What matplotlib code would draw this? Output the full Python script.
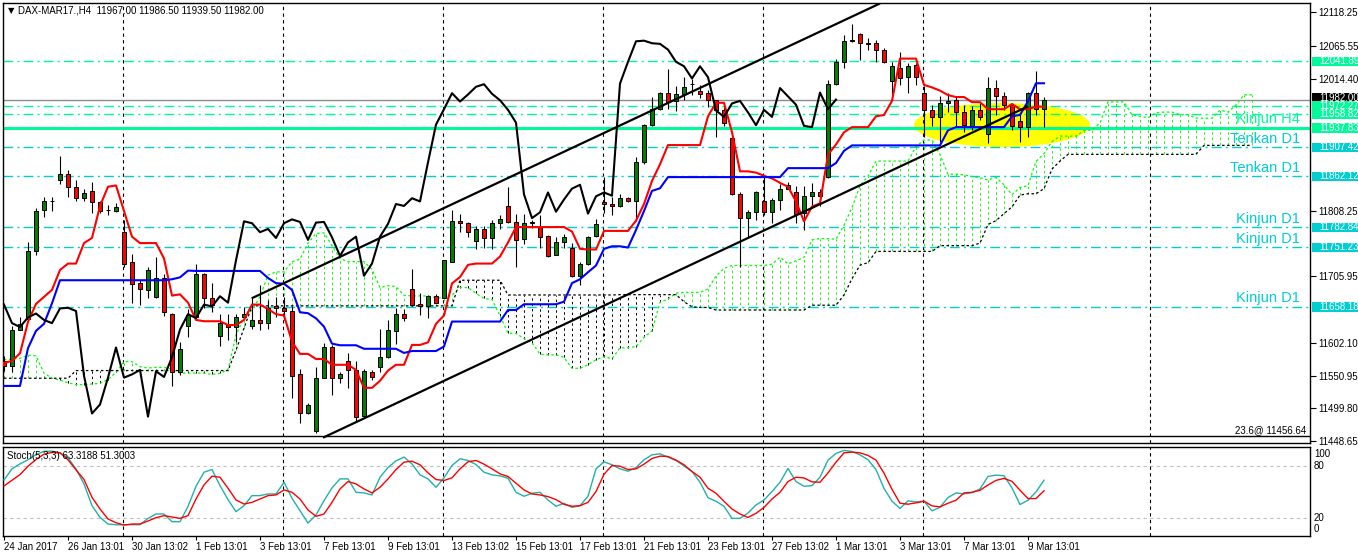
import matplotlib
matplotlib.use("Agg")
import matplotlib.pyplot as plt
from matplotlib.patches import Ellipse, Rectangle
from matplotlib.transforms import blended_transform_factory

plt.rcParams["font.family"] = ["Liberation Sans", "DejaVu Sans"]

# ----------------------------------------
# DAX-MAR17 H4 bars
# ----------------------------------------
opens = [11574, 11566, 11623, 11640, 11746, 11809, 11823, 11856, 11866, 11845,
         11828, 11840, 11822, 11809, 11808, 11775, 11728, 11695, 11685, 11674,
         11704, 11648, 11557, 11629, 11643, 11710, 11672, 11613, 11631, 11627,
         11642, 11629, 11638, 11633, 11659, 11656, 11652, 11553, 11492, 11464,
         11548, 11595, 11548, 11574, 11560, 11488, 11556, 11564, 11580, 11621,
         11647, 11686, 11663, 11659, 11675, 11673, 11729, 11792, 11789, 11762,
         11780, 11766, 11789, 11816, 11791, 11764, 11790, 11783, 11769, 11740,
         11759, 11750, 11707, 11726, 11769, 11822, 11819, 11816, 11828, 11823,
         11884, 11942, 11967, 11992, 11980, 11990, 12006, 11996, 11992, 11981,
         11966, 11922, 11834, 11797, 11806, 11824, 11807, 11826, 11843, 11838,
         11805, 11831, 11837, 11861, 12006, 12041, 12074, 12084, 12070, 12071,
         12060, 12011, 12032, 12017, 12036, 11993, 11966, 11955, 11976, 11981,
         11962, 11941, 11966, 11929, 12000, 11987, 11974, 11949, 11939, 11993,
         11967]
highs = [11582, 11628, 11643, 11759, 11812, 11830, 11830, 11894, 11872, 11856,
         11842, 11854, 11823, 11817, 11820, 11794, 11741, 11700, 11721, 11736,
         11710, 11649, 11603, 11655, 11725, 11712, 11695, 11647, 11648, 11648,
         11658, 11672, 11692, 11669, 11674, 11674, 11659, 11561, 11508, 11565,
         11602, 11599, 11557, 11586, 11574, 11562, 11560, 11624, 11638, 11656,
         11655, 11718, 11680, 11677, 11679, 11732, 11810, 11804, 11791, 11784,
         11784, 11794, 11802, 11846, 11804, 11803, 11794, 11802, 11771, 11767,
         11772, 11758, 11729, 11769, 11796, 11861, 11830, 11834, 11830, 11893,
         11944, 11986, 11994, 12029, 12003, 12018, 12014, 12005, 11997, 11982,
         11970, 11925, 11837, 11810, 11840, 11862, 11828, 11851, 11854, 11847,
         11847, 11852, 11842, 12013, 12045, 12083, 12100, 12086, 12078, 12075,
         12062, 12041, 12056, 12039, 12039, 12003, 11974, 11988, 11992, 11988,
         11974, 11972, 11976, 12017, 12013, 11994, 11976, 11961, 11994, 12026,
         11986.5]
lows = [11559, 11557, 11622, 11638, 11739, 11798, 11808, 11850, 11830, 11823,
        11823, 11805, 11805, 11802, 11806, 11721, 11664, 11661, 11672, 11672,
        11644, 11535, 11552, 11611, 11641, 11656, 11651, 11598, 11606, 11603,
        11641, 11624, 11623, 11624, 11643, 11638, 11516, 11477, 11491, 11461,
        11547, 11521, 11540, 11531, 11479, 11487, 11545, 11557, 11579, 11600,
        11637, 11659, 11645, 11641, 11664, 11672, 11728, 11776, 11767, 11749,
        11751, 11748, 11780, 11789, 11720, 11757, 11781, 11750, 11737, 11739,
        11751, 11705, 11693, 11724, 11767, 11805, 11802, 11815, 11822, 11792,
        11882, 11940, 11966, 11967, 11964, 11982, 11989, 11984, 11971, 11924,
        11940, 11833, 11721, 11768, 11794, 11802, 11790, 11810, 11842, 11790,
        11778, 11812, 11816, 11859, 12005, 12032, 12072, 12044, 12059, 12041,
        12039, 11991, 12005, 11993, 12005, 11924, 11940, 11916, 11963, 11941,
        11932, 11934, 11950, 11915, 11958, 11966, 11934, 11916, 11924, 11958,
        11939.5]
closes = [11566, 11623, 11631, 11746, 11808, 11824, 11824, 11866, 11845, 11828,
          11836, 11822, 11808, 11809, 11814, 11726, 11694, 11686, 11716, 11704,
          11651, 11557, 11592, 11646, 11710, 11672, 11662, 11633, 11627, 11642,
          11648, 11638, 11633, 11656, 11657, 11652, 11551, 11492, 11506, 11548,
          11595, 11548, 11553, 11560, 11487, 11558, 11549, 11580, 11623, 11647,
          11641, 11662, 11659, 11675, 11665, 11731, 11792, 11789, 11775, 11780,
          11766, 11789, 11795, 11791, 11763, 11790, 11791, 11767, 11738, 11759,
          11768, 11707, 11726, 11768, 11788, 11819, 11816, 11828, 11823, 11884,
          11943, 11967, 11992, 11979, 11990, 12002, 12006, 11991, 11981, 11966,
          11946, 11834, 11797, 11806, 11837, 11807, 11826, 11843, 11849, 11804,
          11831, 11837, 11832, 12007, 12041, 12073, 12074, 12070, 12069, 12060,
          12041, 12034, 12015, 12034, 12017, 11965, 11955, 11976, 11980, 11962,
          11942, 11966, 11955, 12000, 11987, 11974, 11941, 11939, 11993, 11967,
          11982]

# Ichimoku lines
tenkan = [11571, 11574, 11586, 11635, 11663, 11674, 11685, 11716, 11726, 11726,
          11758, 11766, 11816, 11846, 11848, 11808, 11768, 11758, 11758, 11758,
          11734, 11676, 11678, 11665, 11638, 11636, 11636, 11636, 11630, 11630,
          11638, 11662, 11662, 11655, 11647, 11645, 11604, 11585, 11585, 11577,
          11577, 11568, 11568, 11568, 11560, 11532, 11532, 11543, 11559, 11568,
          11568, 11599, 11599, 11603, 11632, 11645, 11695, 11705, 11724, 11726,
          11726, 11726, 11737, 11759, 11783, 11783, 11783, 11783, 11783, 11783,
          11783, 11776, 11749, 11748, 11748, 11777, 11777, 11777, 11777, 11793,
          11819, 11855, 11881, 11911, 11911, 11911, 11911, 11911, 11956, 11977,
          11977, 11931, 11870, 11870, 11868, 11863, 11859, 11852, 11846, 11823,
          11792, 11815, 11820, 11896, 11912, 11931, 11939, 11939, 11939, 11956,
          11958, 11980, 12046, 12046, 12046, 12005, 12001, 11996, 11989, 11986,
          11986, 11978, 11978, 11967, 11967, 11967, 11975, 11967, 11967, 11971,
          11971]
kijun = [11535, 11535, 11535, 11594, 11621, 11632, 11664, 11700, 11700, 11700,
         11700, 11700, 11700, 11700, 11700, 11700, 11700, 11700, 11700, 11700,
         11700, 11701.5, 11704.5, 11715, 11714.5, 11714.5, 11714.5, 11714.5, 11714.5, 11714.5,
         11714.5, 11714.5, 11714.5, 11703.5, 11695.5, 11694.5, 11685, 11650, 11648.5, 11640.5,
         11627.5, 11601, 11598.5, 11598.5, 11598.5, 11593, 11593, 11593, 11593, 11593,
         11586.5, 11589.5, 11589.5, 11589.5, 11589.5, 11596.5, 11635.5, 11635.5, 11635.5, 11635.5,
         11635.5, 11635.5, 11635.5, 11653.5, 11653.5, 11662.5, 11662.5, 11662.5, 11662.5, 11662.5,
         11666.5, 11695.5, 11701.5, 11712.5, 11723, 11749, 11753, 11753, 11751, 11778.5,
         11808, 11839.5, 11843.5, 11861, 11861, 11861, 11861, 11861, 11861, 11861,
         11861, 11861, 11861, 11861, 11861, 11861, 11861, 11861, 11875, 11875,
         11875, 11875, 11875, 11875, 11883, 11902, 11910.5, 11910.5, 11910.5, 11910.5,
         11910.5, 11910.5, 11910.5, 11910.5, 11910.5, 11910.5, 11910.5, 11910.5, 11934, 11939,
         11939, 11939, 11939, 11939, 11939, 11939, 11956, 11958, 11979.5, 12007.5,
         12007.5]
# cloud spans run 26 bars past the last candle
span_a = [11576, 11577, 11578, 11583, 11582, 11555, 11547, 11544, 11540, 11537,
          11537, 11538, 11539, 11545, 11556, 11573, 11573, 11565, 11563, 11564,
          11564, 11561, 11555, 11555, 11555, 11555, 11553, 11554.5, 11560.5, 11614.5,
          11642, 11653, 11674.5, 11708, 11713, 11713, 11729, 11733, 11758, 11773,
          11774, 11754, 11734, 11729, 11729, 11729, 11717, 11688.5, 11691.5, 11690,
          11676.5, 11675.5, 11675.5, 11675.5, 11672.5, 11672.5, 11676.5, 11688.5, 11688.5, 11679.5,
          11671.5, 11670, 11644.5, 11617.5, 11617, 11609, 11602.5, 11584.5, 11583.5, 11583.5,
          11579.5, 11562.5, 11562.5, 11568, 11576, 11580.5, 11577.5, 11594.5, 11594.5, 11596.5,
          11611, 11621, 11665.5, 11670.5, 11680, 11681, 11681, 11681, 11686.5, 11706.5,
          11718.5, 11723, 11723, 11723, 11723, 11723, 11725, 11736, 11725.5, 11730.5,
          11735.5, 11763, 11765, 11765, 11764, 11786, 11813.5, 11847.5, 11862.5, 11886,
          11886, 11886, 11886, 11886, 11908.5, 11919, 11919, 11896, 11865.5, 11865.5,
          11864.5, 11862, 11860, 11856.5, 11860.5, 11849, 11833.5, 11845, 11847.5, 11885.5,
          11897.5, 11916.5, 11925, 11925, 11925, 11933.5, 11934.5, 11945.5, 11978.5, 11978.5,
          11978.5, 11958, 11956, 11953.5, 11961.5, 11962.5, 11962.5, 11958.5, 11958.5, 11953,
          11953, 11953, 11965.5, 11962.5, 11973.5, 11989.5, 11989.5]
span_b = [11547, 11547, 11547, 11547, 11547, 11547, 11547, 11547, 11547, 11559,
          11559, 11559, 11559, 11559, 11559, 11559, 11559, 11559, 11559, 11559,
          11559, 11559, 11559, 11559, 11559, 11559, 11559, 11559, 11559, 11591,
          11625, 11660, 11660, 11660, 11660, 11660, 11660, 11660, 11660, 11660,
          11660, 11660, 11660, 11660, 11660, 11660, 11660, 11660, 11660, 11660,
          11660, 11660, 11660, 11660, 11660, 11660, 11660, 11700, 11700, 11700,
          11700, 11700, 11700, 11677, 11677, 11677, 11677, 11677, 11677, 11677,
          11677, 11677, 11677, 11677, 11677, 11677, 11677, 11677.5, 11677.5, 11677.5,
          11677.5, 11677.5, 11677.5, 11677.5, 11677.5, 11666.5, 11658.5, 11657.5, 11657.5, 11653.5,
          11653.5, 11653.5, 11653.5, 11653.5, 11653.5, 11653.5, 11653.5, 11653.5, 11653.5, 11653.5,
          11653.5, 11661, 11661, 11661, 11661, 11677, 11702.5, 11723.5, 11727.5, 11745,
          11745, 11745, 11745, 11745, 11745, 11745, 11745, 11754, 11754, 11754,
          11754, 11754, 11758, 11787, 11793, 11804, 11814.5, 11833, 11835, 11835,
          11843, 11873.5, 11886, 11896.5, 11896.5, 11896.5, 11896.5, 11896.5, 11896.5, 11896.5,
          11896.5, 11896.5, 11896.5, 11896.5, 11896.5, 11896.5, 11896.5, 11896.5, 11896.5, 11896.5,
          11910.5, 11910.5, 11910.5, 11910.5, 11910.5, 11910.5, 11910.5]
chikou_shift = 26

# Stochastic(5,3,3)
stoch_k = [63.7, 76.2, 81.9, 86.5, 92.5, 96.0, 96.3, 94.4, 88.7, 76.2,
           59.1, 34.4, 21.1, 13.6, 12.8, 12.8, 12.8, 12.8, 20.0, 25.0,
           25.0, 16.2, 16.2, 33.7, 56.4, 72.4, 75.4, 57.2, 41.3, 27.6,
           34.4, 45.8, 45.8, 47.7, 47.7, 61.0, 42.8, 28.7, 14.7, 23.8,
           40.1, 54.6, 64.8, 64.8, 49.6, 48.9, 46.6, 66.7, 77.7, 85.3,
           89.5, 81.9, 69.4, 64.8, 55.3, 66.0, 80.0, 87.6, 85.7, 81.1,
           72.4, 69.4, 68.2, 65.6, 49.6, 45.1, 48.5, 49.6, 40.9, 33.7,
           37.1, 32.5, 34.4, 45.1, 76.2, 84.2, 80.8, 76.2, 73.5, 77.7,
           86.5, 92.1, 93.3, 89.5, 85.7, 79.6, 73.2, 61.0, 43.5, 39.4,
           33.7, 20.0, 20.0, 26.1, 35.2, 40.9, 50.4, 61.0, 76.6, 61.8,
           56.4, 57.2, 66.7, 86.1, 93.7, 97.1, 95.9, 92.1, 86.5, 75.4,
           54.0, 39.5, 31.2, 39.9, 38.7, 39.5, 28.6, 32.7, 43.6, 48.9,
           47.7, 49.2, 53.4, 67.6, 69.1, 68.4, 54.5, 35.7, 40.6, 50.0,
           63.3188]
stoch_d = [56.8, 63.3, 69.7, 79.2, 86.8, 92.9, 94.8, 94.4, 86.5, 75.1,
           64.1, 43.9, 30.6, 19.3, 15.1, 12.4, 13.6, 13.6, 17.0, 20.8,
           23.1, 21.5, 20.0, 23.1, 42.0, 58.0, 67.9, 66.7, 54.2, 40.9,
           36.3, 38.2, 42.0, 45.8, 46.6, 52.3, 49.6, 42.0, 29.5, 22.3,
           25.0, 38.2, 53.4, 61.8, 59.1, 53.4, 48.9, 55.3, 64.8, 75.4,
           83.8, 84.9, 80.8, 71.6, 64.1, 63.0, 66.0, 76.2, 84.2, 85.7,
           81.5, 76.2, 70.5, 67.5, 59.9, 52.3, 47.7, 46.6, 44.7, 41.3,
           35.9, 33.7, 34.4, 38.2, 50.4, 70.1, 80.0, 79.2, 75.4, 76.2,
           81.5, 88.0, 90.6, 90.2, 86.1, 80.8, 73.2, 66.7, 54.2, 48.5,
           39.4, 30.6, 25.0, 21.1, 25.7, 32.5, 42.0, 49.6, 61.8, 66.7,
           65.9, 61.4, 61.0, 71.6, 83.8, 94.4, 95.2, 94.4, 91.4, 86.1,
           71.3, 53.0, 37.2, 36.1, 37.6, 39.5, 34.2, 33.1, 37.2, 40.6,
           48.9, 49.6, 51.9, 57.9, 63.1, 65.4, 62.0, 51.9, 42.5, 42.5,
           51.3003]

# time axis labels (every 8 bars)
tick_bars = [0, 8, 16, 24, 32, 40, 48, 56, 64, 72, 80, 88, 96, 104, 112, 120, 128]
tick_labels = ["24 Jan 2017", "26 Jan 13:01", "30 Jan 13:02", "1 Feb 13:01",
               "3 Feb 13:01", "7 Feb 13:01", "9 Feb 13:01", "13 Feb 13:02",
               "15 Feb 13:01", "17 Feb 13:01", "21 Feb 13:01", "23 Feb 13:01",
               "27 Feb 13:02", "1 Mar 13:01", "3 Mar 13:01", "7 Mar 13:01",
               "9 Mar 13:01"]
grid_bars = [14.875, 34.875, 54.875, 74.875, 94.875, 114.875, 143.25]
price_ticks = [12118.25, 12065.55, 12014.40, 11808.25, 11705.95,
               11602.10, 11550.95, 11499.80, 11448.65]

# chart objects
green_levels = [12041.89, 11972.27, 11958.82]
kinjun_h4 = 11937.83
cyan_levels = [11907.42, 11862.12, 11782.84, 11751.23, 11658.18]
bid_price = 11982.00
fib_level = 11456.64
level_texts = [("Kinjun H4", 11937.83), ("Tenkan D1", 11907.42), ("Tenkan D1", 11862.12),
               ("Kinjun D1", 11782.84), ("Kinjun D1", 11751.23), ("Kinjun D1", 11658.18)]
channel_upper = [(30.96, 11671.8), (109.5, 12132.1)]
channel_lower = [(39.875, 11454.2), (128.0, 11971.4)]
ellipse_center = (124.75, 11942.3)
ellipse_size = (22.0, 68.7)

GREEN = "#00FA9A"
CYAN = "#00CED1"

# ----------------------------------------
# Figure layout (pixel boxes)
# ----------------------------------------
W, H = 1358, 557
fig = plt.figure(figsize=(W / 100, H / 100), dpi=100)


def px_box(x0, y0, x1, y1):
    return [x0 / W, 1 - y1 / H, (x1 - x0) / W, (y1 - y0) / H]


ax = fig.add_axes(px_box(3, 3, 1310, 443))
ax2 = fig.add_axes(px_box(3, 447, 1310, 536))

bars = list(range(len(closes)))
cloud_bars = list(range(len(span_a)))
xlim = (-0.125, 163.25)

# ellipse highlight (background)
ax.add_patch(Ellipse(ellipse_center, ellipse_size[0], ellipse_size[1],
                     facecolor="#FFFF00", edgecolor="none", zorder=1))

for gx in grid_bars:
    for a in (ax, ax2):
        a.axvline(gx, color="black", lw=0.8, ls=(0, (3, 3)), zorder=1.5)

# horizontal levels
dashdot = (0, (7, 3, 1.5, 3))
for lv in green_levels:
    ax.axhline(lv, color=GREEN, lw=1, ls=dashdot, zorder=2)
for lv in cyan_levels:
    ax.axhline(lv, color=CYAN, lw=1, ls=dashdot, zorder=2)
ax.axhline(kinjun_h4, color=GREEN, lw=2.2, zorder=2)
ax.axhline(bid_price, color="#8C8C8C", lw=1, zorder=2)
ax.axhline(fib_level, color="black", lw=1, zorder=2)

# Ichimoku cloud hatch
cloud_lo = [min(a, b) for a, b in zip(span_a, span_b)]
cloud_hi = [max(a, b) for a, b in zip(span_a, span_b)]
cloud_col = ["#22EE22" if a >= b else "black" for a, b in zip(span_a, span_b)]
ax.vlines(cloud_bars, cloud_lo, cloud_hi, colors=cloud_col,
          linestyles=(0, (2.5, 3)), lw=0.7, zorder=2.3)
ax.plot(cloud_bars, span_a, color="#00FF00", lw=0.9, ls=(0, (2, 2)), zorder=2.4)
ax.plot(cloud_bars, span_b, color="black", lw=0.9, ls=(0, (2, 2)), zorder=2.4)

# candles
ax.vlines(bars, lows, highs, color="black", lw=0.8, zorder=3)
body_lo = [min(o, c) for o, c in zip(opens, closes)]
body_h = [max(abs(c - o), 0.7) for o, c in zip(opens, closes)]
body_col = ["#008000" if c > o else ("#FF0000" if c < o else "black")
            for o, c in zip(opens, closes)]
ax.bar(bars, body_h, bottom=body_lo, width=0.62, color=body_col,
       edgecolor="black", linewidth=0.7, zorder=3.2)

# indicator lines
ax.plot(bars, tenkan, color="#FF0000", lw=1.5, zorder=4)
ax.plot(bars, kijun, color="#0000FF", lw=1.5, zorder=4)
ax.plot(bars[:len(closes) - chikou_shift], closes[chikou_shift:],
        color="black", lw=1.5, zorder=4)

# channel
for line in (channel_upper, channel_lower):
    ax.plot([p[0] for p in line], [p[1] for p in line], color="black",
            lw=1.6, zorder=5, solid_capstyle="butt")

# level names
for name, lv in level_texts:
    col = GREEN if "H4" in name else CYAN
    ax.text(162, lv + 2.5, name, color=col, fontsize=10.5, ha="right",
            va="bottom", zorder=6)

ax.text(162.8, fib_level + 2, "23.6@ 11456.64", fontsize=7, ha="right",
        va="bottom", zorder=6)

ax.set_xlim(*xlim)
ax.set_ylim(11445.9, 12132.8)
ax.set_xticks([])
ax.yaxis.tick_right()
ax.set_yticks(price_ticks)
ax.set_yticklabels([f"{v:.2f}" for v in price_ticks])
ax.tick_params(axis="y", length=4, width=0.8, pad=2, labelsize=7,
               colors="black")
for sp in ax.spines.values():
    sp.set_color("black")
    sp.set_linewidth(1)

# price boxes on the right axis (bid box sits mostly behind the next one)
trans = blended_transform_factory(ax.transAxes, ax.transData)
box_h = 14.5
boxes = [(bid_price, "black", 3.0)] + [(lv, GREEN, 0) for lv in green_levels] + \
        [(kinjun_h4, GREEN, 0)] + [(lv, CYAN, 0) for lv in cyan_levels]
for i, (lv, col, lift) in enumerate(boxes):
    z = 10 + 2 * i
    ax.add_patch(Rectangle((1.0015, lv + lift - box_h / 2), 0.036, box_h,
                           transform=trans, facecolor=col, edgecolor="none",
                           clip_on=False, zorder=z))
    ax.text(1.0075, lv + lift, f"{lv:.2f}", transform=trans, color="white",
            fontsize=7, ha="left", va="center", clip_on=False, zorder=z + 1)

# header
ax.text(0.0035, 0.9825, "\u25bc", transform=ax.transAxes, fontsize=6,
        ha="left", va="center", family=["DejaVu Sans"])
ax.text(0.0115, 0.9825, "DAX-MAR17.,H4  11967.00 11986.50 11939.50 11982.00",
        transform=ax.transAxes, fontsize=7, ha="left", va="center")

# ----------------------------------------
# Stochastic panel
# ----------------------------------------
ax2.axhline(80, color="#C0C0C0", lw=0.8, ls=(0, (3, 3)), zorder=1)
ax2.axhline(20, color="#C0C0C0", lw=0.8, ls=(0, (3, 3)), zorder=1)
ax2.plot(bars, stoch_k, color="#20B2AA", lw=1, zorder=3)
ax2.plot(bars, stoch_d, color="#FF0000", lw=1, zorder=3)
ax2.set_xlim(*xlim)
ax2.set_ylim(0, 101)
ax2.set_yticks([])
ax2.set_xticks(tick_bars)
ax2.set_xticklabels(tick_labels)
for lab in ax2.get_xticklabels():
    lab.set_ha("left")
ax2.tick_params(axis="x", length=3, width=0.8, pad=1, labelsize=7)
for sp in ax2.spines.values():
    sp.set_color("black")
    sp.set_linewidth(1)

for lab, pos in [("100", 93.6), ("80", 80), ("20", 20), ("0", 7.5)]:
    ax2.text(1.003, pos, lab, transform=blended_transform_factory(ax2.transAxes, ax2.transData),
             fontsize=7, ha="left", va="center", clip_on=False)
ax2.text(0.003, 0.9, "Stoch(5,3,3) 63.3188 51.3003", transform=ax2.transAxes,
         fontsize=7, ha="left", va="center")

fig.savefig("out.png", dpi=100, facecolor="white")
